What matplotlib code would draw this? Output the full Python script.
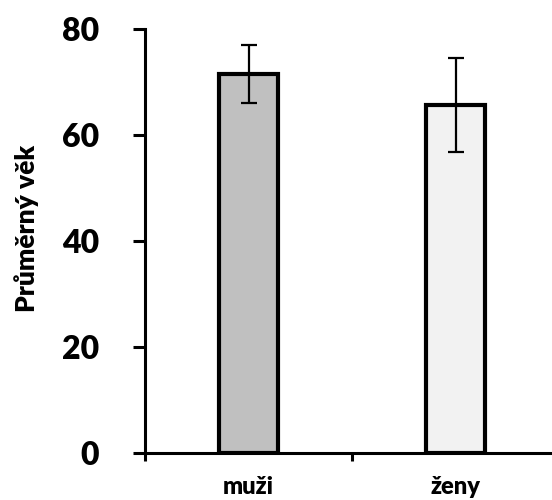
import matplotlib
matplotlib.use("Agg")
import matplotlib.pyplot as plt

categories = ["muži", "ženy"]
means = [71.4, 65.6]
errors = [5.5, 8.8]
colors = ["#c0c0c0", "#f2f2f2"]
yticks = [0, 20, 40, 60, 80]

plt.rcParams['font.family'] = ['Lato', 'DejaVu Sans']

fig = plt.figure(figsize=(5.52, 5.0), dpi=100)
ax = fig.add_axes([0.2627, 0.0946, 0.75, 0.848])

x = [0, 1]
ax.bar(x, means, width=0.285, color=colors, edgecolor="black", linewidth=3.0, zorder=2)
ax.errorbar(x, means, yerr=errors, fmt="none", ecolor="black", elinewidth=1.6,
            capsize=6, capthick=1.6, zorder=3)

ax.set_xlim(-0.5, 1.5)
ax.set_ylim(0, 80)
ax.set_yticks(yticks)
ax.set_yticklabels([str(v) for v in yticks], fontsize=23, fontweight="heavy")
ax.set_xticks([-0.5, 0.5, 1.5], minor=False)
ax.set_xticklabels(["", "", ""])
ax.set_xticks(x, minor=True)
ax.set_xticklabels(categories, minor=True, fontsize=17, fontweight="heavy")
ax.tick_params(axis="x", which="major", length=6, width=2.2, direction="out")
ax.tick_params(axis="x", which="minor", length=0, pad=17)
ax.tick_params(axis="y", length=9, width=2.2, direction="out", pad=24)

for s in ["top", "right"]:
    ax.spines[s].set_visible(False)
for s in ["left", "bottom"]:
    ax.spines[s].set_linewidth(2.2)

ax.set_ylabel("Průměrný věk", fontsize=19, fontweight="heavy")
ax.yaxis.set_label_coords(-0.255, 0.53)

fig.savefig("out.png", dpi=100)
